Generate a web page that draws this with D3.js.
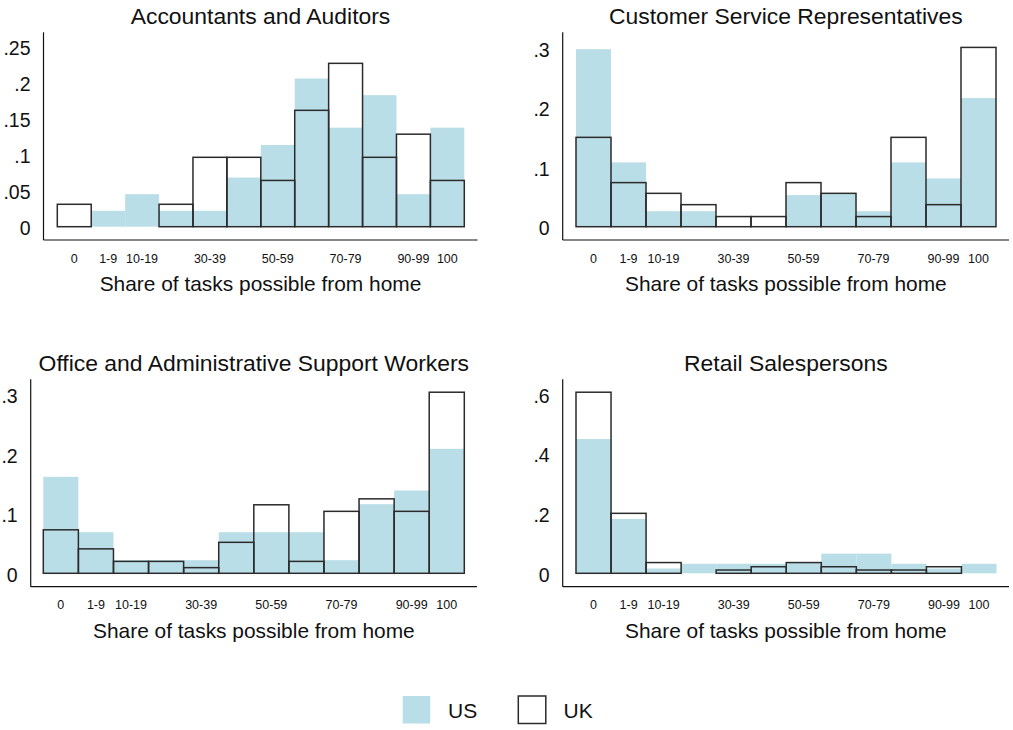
<!DOCTYPE html>
<html><head><meta charset="utf-8">
<script src="https://cdn.jsdelivr.net/npm/d3@7"></script>
<style>
html,body{margin:0;padding:0;background:#fff;}
svg{display:block;font-family:"Liberation Sans",Arial,Helvetica,sans-serif;}
</style></head>
<body>
<svg id="chart" width="1013" height="730"></svg>
<script>
// ---------- data ----------
const bins = ["0","1-9","10-19","20-29","30-39","40-49","50-59","60-69","70-79","80-89","90-99","100"];
const tickLabels = ["0","1-9","10-19","30-39","50-59","70-79","90-99","100"];
const seriesNames = ["US","UK"];

const titles = ["Accountants and Auditors","Customer Service Representatives","Office and Administrative Support Workers","Retail Salespersons"];
const xAxisTitle = "Share of tasks possible from home";

const accountantsUS = [0, 0.022, 0.045, 0.022, 0.022, 0.068, 0.113, 0.205, 0.137, 0.182, 0.045, 0.137];
const accountantsUK = [0.031, 0, 0, 0.031, 0.096, 0.096, 0.064, 0.161, 0.226, 0.096, 0.128, 0.064];

const customerUS = [0.298, 0.108, 0.026, 0.026, 0, 0, 0.053, 0.056, 0.026, 0.108, 0.081, 0.216];
const customerUK = [0.15, 0.074, 0.056, 0.037, 0.017, 0.017, 0.074, 0.056, 0.017, 0.15, 0.037, 0.301];

const officeUS = [0.162, 0.069, 0.022, 0.022, 0.022, 0.069, 0.069, 0.069, 0.022, 0.116, 0.139, 0.209];
const officeUK = [0.073, 0.041, 0.02, 0.02, 0.0095, 0.052, 0.115, 0.02, 0.104, 0.125, 0.104, 0.304];

const retailUS = [0.45, 0.182, 0.016, 0.032, 0.032, 0.032, 0.036, 0.066, 0.066, 0.032, 0.016, 0.032];
const retailUK = [0.607, 0.201, 0.036, 0, 0.011, 0.022, 0.036, 0.022, 0.011, 0.011, 0.022, 0];

const yTicksAcc = [0, 0.05, 0.1, 0.15, 0.2, 0.25];
const yTicksCus = [0, 0.1, 0.2, 0.3];
const yTicksOff = [0, 0.1, 0.2, 0.3];
const yTicksRet = [0, 0.2, 0.4, 0.6];

// ---------- layout ----------
const BLUE = "#badee8";
const OUT = "#2b2b2b";

const panels = [
  {title: titles[0], us: accountantsUS, uk: accountantsUK, ticks: yTicksAcc,
   axX: 43.5, axTop: 32.3, axBot: 240, axRight: 477.5, barL: 57.3, barR: 464.3, zeroY: 226.7, topY: 46, titleY: 16},
  {title: titles[1], us: customerUS, uk: customerUK, ticks: yTicksCus,
   axX: 562.7, axTop: 32.3, axBot: 240, axRight: 1009, barL: 576, barR: 996, zeroY: 226.7, topY: 48, titleY: 16},
  {title: titles[2], us: officeUS, uk: officeUK, ticks: yTicksOff,
   axX: 30.7, axTop: 379.3, axBot: 586.7, axRight: 477, barL: 43.3, barR: 464.3, zeroY: 573.3, topY: 394.6, titleY: 362.7},
  {title: titles[3], us: retailUS, uk: retailUK, ticks: yTicksRet,
   axX: 562.7, axTop: 379.3, axBot: 586.7, axRight: 1009, barL: 576, barR: 996.5, zeroY: 573.3, topY: 394.3, titleY: 362.7}
];

const svg = d3.select("#chart");
const fmt = v => v === 0 ? "0" : String(+v.toFixed(3)).replace(/^0\./, ".");

panels.forEach(p => {
  const g = svg.append("g");
  const x = d3.scaleBand().domain(bins).range([p.barL, p.barR]).padding(0);
  const maxT = p.ticks[p.ticks.length - 1];
  const y = d3.scaleLinear().domain([0, maxT]).range([p.zeroY, p.topY]);

  // US bars (filled)
  g.append("g").selectAll("rect").data(bins.map((b, i) => ({b, v: p.us[i]})).filter(d => d.v > 0))
    .join("rect")
    .attr("x", d => x(d.b)).attr("width", x.bandwidth())
    .attr("y", d => y(d.v)).attr("height", d => y(0) - y(d.v))
    .attr("fill", BLUE);

  // UK bars (outline)
  g.append("g").selectAll("rect").data(bins.map((b, i) => ({b, v: p.uk[i]})).filter(d => d.v > 0))
    .join("rect")
    .attr("x", d => x(d.b)).attr("width", x.bandwidth())
    .attr("y", d => y(d.v)).attr("height", d => y(0) - y(d.v))
    .attr("fill", "none").attr("stroke", OUT).attr("stroke-width", 1.5);

  // axes lines
  g.append("line").attr("x1", p.axX).attr("x2", p.axX).attr("y1", p.axTop).attr("y2", p.axBot)
    .attr("stroke", "#111").attr("stroke-width", 1.2);
  g.append("line").attr("x1", p.axX).attr("x2", p.axRight).attr("y1", p.axBot).attr("y2", p.axBot)
    .attr("stroke", "#111").attr("stroke-width", 1.2);

  // y tick labels
  g.append("g").selectAll("text").data(p.ticks).join("text")
    .attr("x", p.axX - 13).attr("y", d => y(d) + 1.5)
    .attr("text-anchor", "end").attr("dominant-baseline", "central")
    .attr("font-size", 19.5).attr("fill", "#111")
    .text(fmt);

  // x tick labels
  g.append("g").selectAll("text").data(tickLabels).join("text")
    .attr("x", d => x(d) + x.bandwidth() / 2).attr("y", p.axBot + 18.5)
    .attr("text-anchor", "middle").attr("dominant-baseline", "central")
    .attr("font-size", 12.5).attr("fill", "#111")
    .text(d => d);

  // axis title
  const cx = (p.axX + p.axRight) / 2;
  g.append("text").attr("x", cx).attr("y", p.axBot + 43.5)
    .attr("text-anchor", "middle").attr("dominant-baseline", "central")
    .attr("font-size", 20.9).attr("fill", "#111").text(xAxisTitle);

  // panel title
  g.append("text").attr("x", cx).attr("y", p.titleY)
    .attr("text-anchor", "middle").attr("dominant-baseline", "central")
    .attr("font-size", 22.9).attr("fill", "#111").text(p.title);
});

// legend
const leg = svg.append("g");
const legItems = [
  {name: seriesNames[0], x: 402.7, fill: BLUE, stroke: "none"},
  {name: seriesNames[1], x: 518.3, fill: "none", stroke: OUT}
];
legItems.forEach(it => {
  leg.append("rect").attr("x", it.x).attr("y", 696).attr("width", 27.5).attr("height", 27.5)
    .attr("fill", it.fill).attr("stroke", it.stroke).attr("stroke-width", 1.5);
  leg.append("text").attr("x", it.x + 45.3).attr("y", 710.5)
    .attr("dominant-baseline", "central").attr("font-size", 21).attr("fill", "#111").text(it.name);
});
</script>
</body></html>
